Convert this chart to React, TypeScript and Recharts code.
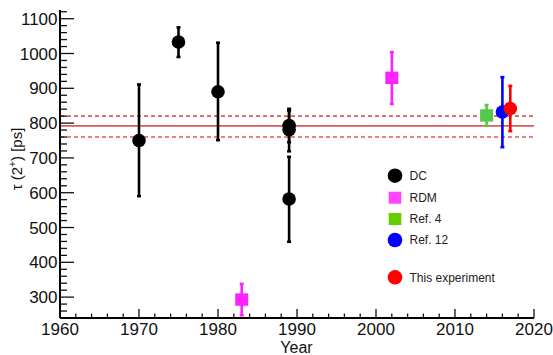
import React from 'react';
import { ScatterChart, Scatter, XAxis, YAxis, ErrorBar, ReferenceLine, Legend } from 'recharts';

// ---- data ----
const dcYears = [1970, 1975, 1980, 1989, 1989, 1989];
const dcValues = [750, 1033, 890, 793, 781, 582];
const dcLow = [590, 990, 751, 745, 719, 459];
const dcHigh = [911, 1075, 1031, 841, 836, 703];

const rdmYears = [1983, 2002];
const rdmValues = [293, 930];
const rdmLow = [248, 855];
const rdmHigh = [338, 1004];

const ref4Years = [2014];
const ref4Values = [822];
const ref4Low = [792];
const ref4High = [852];

const ref12Years = [2016];
const ref12Values = [832];
const ref12Low = [731];
const ref12High = [932];

const thisYears = [2017];
const thisValues = [842];
const thisLow = [777];
const thisHigh = [907];

const meanValue = 792;
const meanLow = 760;
const meanHigh = 820;

const xMajorTicks = [1960, 1970, 1980, 1990, 2000, 2010, 2020];
const yMajorTicks = [300, 400, 500, 600, 700, 800, 900, 1000, 1100];

const legendLabels = ['DC', 'RDM', 'Ref. 4', 'Ref. 12', 'This experiment'];
const legendColors = ['#000000', '#ff44ff', '#66cc00', '#0000ff', '#ff0000'];
const legendShapes = ['circle', 'square', 'square', 'circle', 'circle'];

const xDomain = [1960, 2020];
const yDomain = [240, 1125];

// minor tick positions
const xTicks: number[] = [];
for (let v = 1960; v <= 2020; v += 2) xTicks.push(v);
const yTicks: number[] = [];
for (let v = 260; v <= 1120; v += 20) yTicks.push(v);

const build = (years: number[], values: number[], low: number[], high: number[]) =>
  years.map((x, i) => ({ x, y: values[i], err: [values[i] - low[i], high[i] - values[i]] }));

const dcData = build(dcYears, dcValues, dcLow, dcHigh);
const rdmData = build(rdmYears, rdmValues, rdmLow, rdmHigh);
const ref4Data = build(ref4Years, ref4Values, ref4Low, ref4High);
const ref12Data = build(ref12Years, ref12Values, ref12Low, ref12High);
const thisData = build(thisYears, thisValues, thisLow, thisHigh);

const FONT = '"Liberation Sans", Arial, Helvetica, sans-serif';

const circleShape = (color: string) => (props: any) => {
  const { cx, cy } = props;
  if (cx == null || cy == null) return <g />;
  return <circle cx={cx} cy={cy} r={6.8} fill={color} />;
};
const squareShape = (color: string) => (props: any) => {
  const { cx, cy } = props;
  if (cx == null || cy == null) return <g />;
  return <rect x={cx - 6.5} y={cy - 6.2} width={13} height={12.4} fill={color} />;
};

const YTick = (props: any) => {
  const { x, y, payload } = props;
  const v = payload.value;
  const major = yMajorTicks.includes(v);
  return (
    <g>
      <line x1={x} x2={x + (major ? 14 : 7)} y1={y} y2={y} stroke="#111" strokeWidth={1.3} />
      {major && (
        <text x={x - 2.5} y={y} dy="0.36em" textAnchor="end" fontSize={17} fill="#111" fontFamily={FONT}>
          {v}
        </text>
      )}
    </g>
  );
};

const XTick = (props: any) => {
  const { x, y, payload } = props;
  const v = payload.value;
  const major = xMajorTicks.includes(v);
  return (
    <g>
      <line x1={x} x2={x} y1={y} y2={y - (major ? 9 : 4.5)} stroke="#111" strokeWidth={1.3} />
      {major && (
        <text x={x} y={y + 16.5} textAnchor="middle" fontSize={17} fill="#111" fontFamily={FONT}>
          {v}
        </text>
      )}
    </g>
  );
};

const YLabel = () => (
  <text
    x={159}
    y={22}
    transform="rotate(-90 0 0) translate(-318 0)"
    textAnchor="middle"
    fontSize={15}
    fill="#111"
    fontFamily={FONT}
  >
    <tspan>τ (2</tspan>
    <tspan dy={-6} fontSize={10}>+</tspan>
    <tspan dy={6}>) [ps]</tspan>
  </text>
);

const XLabel = () => (
  <text x={296.5} y={352.5} textAnchor="middle" fontSize={16} fill="#111" fontFamily={FONT}>
    Year
  </text>
);

const legendRowY = [15.7, 37.7, 59, 80, 117.3];

const LegendContent = () => (
  <svg width={170} height={135} style={{ display: 'block' }}>
    {legendLabels.map((label, i) => (
      <g key={label}>
        {legendShapes[i] === 'circle' ? (
          <circle cx={15} cy={legendRowY[i]} r={7.3} fill={legendColors[i]} />
        ) : (
          <rect x={15 - 6.3} y={legendRowY[i] - 6} width={12.6} height={12} fill={legendColors[i]} />
        )}
        <text x={29.5} y={legendRowY[i]} dy="0.36em" fontSize={12} fill="#222" fontFamily={FONT}>
          {label}
        </text>
      </g>
    ))}
  </svg>
);

export default function App() {
  return (
    <div style={{ position: 'absolute', left: 0, top: 0, width: 553, height: 355, background: '#fff', fontFamily: FONT }}>
      <ScatterChart width={553} height={355} margin={{ top: 10, right: 19, bottom: 0, left: 0 }}>
        <XAxis
          xAxisId={0}
          dataKey="x"
          type="number"
          domain={xDomain}
          ticks={xTicks}
          interval={0}
          allowDataOverflow
          height={37}
          tickSize={0}
          tickMargin={0}
          tickLine={false}
          axisLine={{ stroke: '#000', strokeWidth: 2 }}
          tick={<XTick />}
          label={<XLabel />}
        />
        <XAxis
          xAxisId="top"
          orientation="top"
          type="number"
          domain={xDomain}
          allowDataOverflow
          height={0}
          tick={false}
          tickLine={false}
          axisLine={{ stroke: '#333', strokeWidth: 2 }}
        />
        <YAxis
          yAxisId={0}
          dataKey="y"
          type="number"
          domain={yDomain}
          ticks={yTicks}
          interval={0}
          allowDataOverflow
          width={60}
          tickSize={0}
          tickMargin={0}
          tickLine={false}
          axisLine={{ stroke: '#000', strokeWidth: 2 }}
          tick={<YTick />}
          label={<YLabel />}
        />
        <YAxis
          yAxisId="right"
          orientation="right"
          type="number"
          domain={yDomain}
          allowDataOverflow
          width={0}
          tick={false}
          tickLine={false}
          axisLine={{ stroke: '#333', strokeWidth: 2 }}
        />
        <ReferenceLine y={meanValue} stroke="#e05a5a" strokeWidth={1.6} />
        <ReferenceLine y={meanHigh} stroke="#e05a5a" strokeWidth={1.6} strokeDasharray="4 3" />
        <ReferenceLine y={meanLow} stroke="#e05a5a" strokeWidth={1.6} strokeDasharray="4 3" />
        <Scatter data={dcData} isAnimationActive={false} shape={circleShape('#000000')}>
          <ErrorBar dataKey="err" direction="y" stroke="#000000" strokeWidth={2.6} width={2} />
        </Scatter>
        <Scatter data={rdmData} isAnimationActive={false} shape={squareShape('#ff22ff')}>
          <ErrorBar dataKey="err" direction="y" stroke="#ff22ff" strokeWidth={2.6} width={2} />
        </Scatter>
        <Scatter data={ref4Data} isAnimationActive={false} shape={squareShape('#55c84a')}>
          <ErrorBar dataKey="err" direction="y" stroke="#55c84a" strokeWidth={2.6} width={2} />
        </Scatter>
        <Scatter data={ref12Data} isAnimationActive={false} shape={circleShape('#0000ff')}>
          <ErrorBar dataKey="err" direction="y" stroke="#0000ff" strokeWidth={2.6} width={2} />
        </Scatter>
        <Scatter data={thisData} isAnimationActive={false} shape={circleShape('#ff0000')}>
          <ErrorBar dataKey="err" direction="y" stroke="#ff0000" strokeWidth={2.6} width={2} />
        </Scatter>
        <Legend
          layout="vertical"
          align="center"
          verticalAlign="middle"
          content={<LegendContent />}
          wrapperStyle={{ left: 380, top: 160, width: 170, height: 135 }}
        />
      </ScatterChart>
    </div>
  );
}
